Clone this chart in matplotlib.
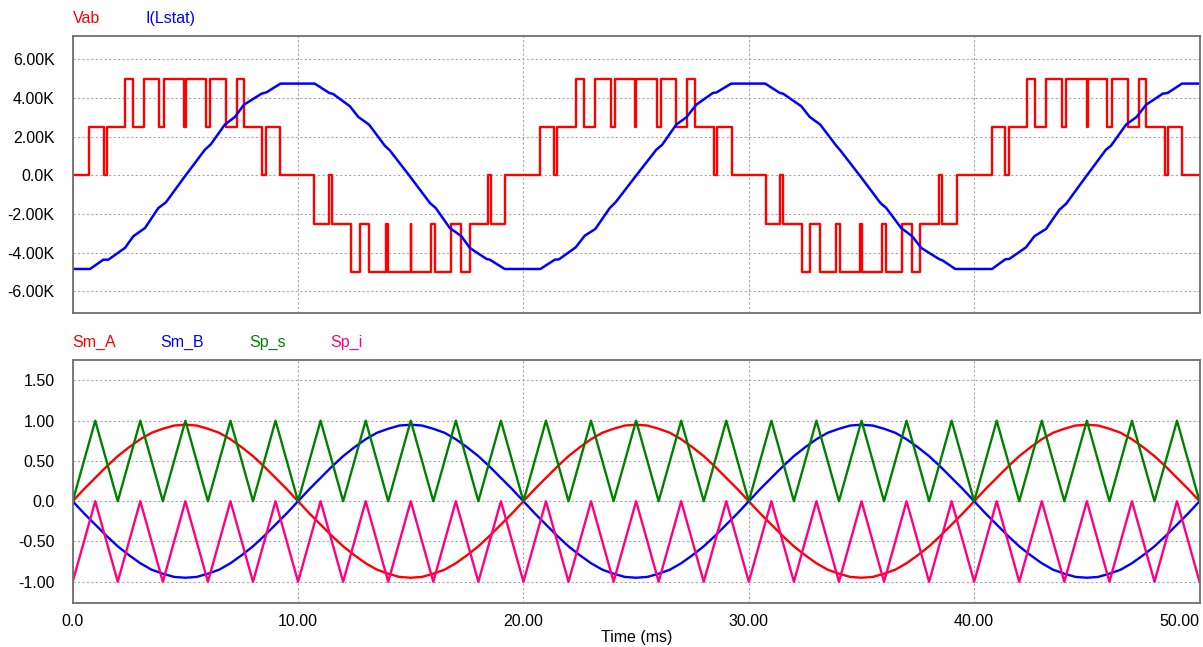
import numpy as np
import matplotlib
matplotlib.use("Agg")
import matplotlib.pyplot as plt

plt.rcParams['font.family'] = ['Liberation Sans', 'DejaVu Sans']

# Vab: switching instants (ms) and the level (kV) after each instant
vab_t = [0, 0.74, 1.37, 1.52, 2.33, 2.66, 3.16, 3.84, 4.06, 4.94, 5.02, 5.90, 6.09, 6.78, 7.27, 7.61, 8.42, 8.57, 9.19,
         10.72, 11.37, 11.51, 12.33, 12.74, 13.15, 13.88, 14.01, 14.99, 15.03, 15.89, 16.08, 16.78, 17.24, 17.64, 18.41, 18.54, 19.18,
         20.75, 21.36, 21.51, 22.35, 22.70, 23.19, 23.87, 24.06, 24.95, 25.01, 25.92, 26.11, 26.77, 27.27, 27.62, 28.44, 28.59, 29.24,
         30.78, 31.37, 31.53, 32.35, 32.71, 33.18, 33.88, 34.04, 34.95, 35.01, 35.90, 36.07, 36.79, 37.25, 37.60, 38.43, 38.58, 39.22,
         40.80, 41.38, 41.53, 42.33, 42.70, 43.19, 43.88, 44.09, 44.99, 45.05, 45.91, 46.12, 46.81, 47.30, 47.63, 48.47, 48.60, 49.22,
         50.0]
vab_k = [0, 2.5, 0, 2.5, 5, 2.5, 5, 2.5, 5, 2.5, 5, 2.5, 5, 2.5, 5, 2.5, 0, 2.5, 0,
         -2.5, 0, -2.5, -5, -2.5, -5, -2.5, -5, -2.5, -5, -2.5, -5, -2.5, -5, -2.5, 0, -2.5, 0,
         2.5, 0, 2.5, 5, 2.5, 5, 2.5, 5, 2.5, 5, 2.5, 5, 2.5, 5, 2.5, 0, 2.5, 0,
         -2.5, 0, -2.5, -5, -2.5, -5, -2.5, -5, -2.5, -5, -2.5, -5, -2.5, -5, -2.5, 0, -2.5, 0,
         2.5, 0, 2.5, 5, 2.5, 5, 2.5, 5, 2.5, 5, 2.5, 5, 2.5, 5, 2.5, 0, 2.5, 0,
         0]

# I(Lstat) (ms, "K" units)
il_t = [0, 0.77, 1.36, 1.58, 2.32, 2.69, 3.21, 3.80, 4.14, 4.98, 5.87, 6.12, 6.75, 7.20, 7.60, 8.38, 8.60, 9.22,
        10.74, 11.38, 11.56, 12.30, 12.67, 13.15, 13.85, 14.07, 14.96, 15.85, 16.11, 16.73, 17.25, 17.62, 18.36, 18.51, 19.17,
        20.75, 21.39, 21.58, 22.32, 22.72, 23.19, 23.83, 24.09, 25.01, 25.90, 26.15, 26.78, 27.23, 27.67, 28.41, 28.56, 29.22,
        30.73, 31.37, 31.52, 32.33, 32.70, 33.17, 33.88, 34.06, 34.95, 35.84, 36.10, 36.76, 37.25, 37.65, 38.43, 38.60, 39.16,
        40.79, 41.38, 41.56, 42.30, 42.67, 43.19, 43.78, 44.08, 44.97, 45.85, 46.07, 46.74, 47.21, 47.63, 48.37, 48.59, 49.22,
        50.0]
il_k = [-4.84, -4.84, -4.36, -4.36, -3.75, -3.15, -2.72, -1.69, -1.39, -0.05, 1.33, 1.59, 2.62, 3.02, 3.65, 4.22, 4.29, 4.74,
        4.74, 4.26, 4.20, 3.57, 3.02, 2.62, 1.53, 1.29, -0.05, -1.43, -1.69, -2.72, -3.15, -3.75, -4.32, -4.36, -4.84,
        -4.84, -4.36, -4.34, -3.72, -3.12, -2.77, -1.69, -1.39, 0.0, 1.33, 1.57, 2.62, 3.00, 3.65, 4.26, 4.28, 4.74,
        4.74, 4.26, 4.22, 3.57, 3.02, 2.62, 1.53, 1.29, -0.05, -1.43, -1.69, -2.72, -3.15, -3.75, -4.32, -4.40, -4.84,
        -4.84, -4.34, -4.32, -3.72, -3.15, -2.77, -1.78, -1.47, -0.05, 1.33, 1.53, 2.62, 3.02, 3.65, 4.22, 4.26, 4.74,
        4.74]

# modulating signals, read every 0.5 ms
sm_t = [i * 0.5 for i in range(101)]
sm_a = [0, 0.15, 0.29, 0.43, 0.56, 0.67, 0.77, 0.85, 0.90, 0.94, 0.95, 0.94, 0.90, 0.85, 0.77, 0.67, 0.56, 0.43, 0.29, 0.15,
        0, -0.15, -0.29, -0.43, -0.56, -0.67, -0.77, -0.85, -0.90, -0.94, -0.95, -0.94, -0.90, -0.85, -0.77, -0.67, -0.56, -0.43, -0.29, -0.15,
        0, 0.15, 0.29, 0.43, 0.56, 0.67, 0.77, 0.85, 0.90, 0.94, 0.95, 0.94, 0.90, 0.85, 0.77, 0.67, 0.56, 0.43, 0.29, 0.15,
        0, -0.15, -0.29, -0.43, -0.56, -0.67, -0.77, -0.85, -0.90, -0.94, -0.95, -0.94, -0.90, -0.85, -0.77, -0.67, -0.56, -0.43, -0.29, -0.15,
        0, 0.15, 0.29, 0.43, 0.56, 0.67, 0.77, 0.85, 0.90, 0.94, 0.95, 0.94, 0.90, 0.85, 0.77, 0.67, 0.56, 0.43, 0.29, 0.15, 0]
sm_b = [0, -0.15, -0.29, -0.43, -0.56, -0.67, -0.77, -0.85, -0.90, -0.94, -0.95, -0.94, -0.90, -0.85, -0.77, -0.67, -0.56, -0.43, -0.29, -0.15,
        0, 0.15, 0.29, 0.43, 0.56, 0.67, 0.77, 0.85, 0.90, 0.94, 0.95, 0.94, 0.90, 0.85, 0.77, 0.67, 0.56, 0.43, 0.29, 0.15,
        0, -0.15, -0.29, -0.43, -0.56, -0.67, -0.77, -0.85, -0.90, -0.94, -0.95, -0.94, -0.90, -0.85, -0.77, -0.67, -0.56, -0.43, -0.29, -0.15,
        0, 0.15, 0.29, 0.43, 0.56, 0.67, 0.77, 0.85, 0.90, 0.94, 0.95, 0.94, 0.90, 0.85, 0.77, 0.67, 0.56, 0.43, 0.29, 0.15,
        0, -0.15, -0.29, -0.43, -0.56, -0.67, -0.77, -0.85, -0.90, -0.94, -0.95, -0.94, -0.90, -0.85, -0.77, -0.67, -0.56, -0.43, -0.29, -0.15, 0]

# carriers: vertices every 1 ms
sp_t = list(range(51))
sp_s = [0, 1, 0, 1, 0, 1, 0, 1, 0, 1, 0, 1, 0, 1, 0, 1, 0, 1, 0, 1, 0, 1, 0, 1, 0, 1,
        0, 1, 0, 1, 0, 1, 0, 1, 0, 1, 0, 1, 0, 1, 0, 1, 0, 1, 0, 1, 0, 1, 0, 1, 0]
sp_i = [-1, 0, -1, 0, -1, 0, -1, 0, -1, 0, -1, 0, -1, 0, -1, 0, -1, 0, -1, 0, -1, 0, -1, 0, -1, 0,
        -1, 0, -1, 0, -1, 0, -1, 0, -1, 0, -1, 0, -1, 0, -1, 0, -1, 0, -1, 0, -1, 0, -1, 0, -1]

top_ticks = [-6, -4, -2, 0, 2, 4, 6]
top_labels = ['-6.00K', '-4.00K', '-2.00K', '0.0K', '2.00K', '4.00K', '6.00K']
bot_ticks = [-1, -0.5, 0, 0.5, 1, 1.5]
bot_labels = ['-1.00', '-0.50', '0.0', '0.50', '1.00', '1.50']
x_ticks = [0, 10, 20, 30, 40, 50]
x_labels = ['0.0', '10.00', '20.00', '30.00', '40.00', '50.00']

W, H = 1203, 647
fig = plt.figure(figsize=(W / 100, H / 100), dpi=100)

def px_axes(x0, y0, x1, y1):
    return fig.add_axes([x0 / W, 1 - y1 / H, (x1 - x0) / W, (y1 - y0) / H])

def style(ax):
    ax.grid(True, color='#a8a8a8', linestyle=(0, (2, 2)), linewidth=0.8)
    ax.set_axisbelow(True)
    for s in ax.spines.values():
        s.set_color('#6e6e6e')
        s.set_linewidth(1.3)
    ax.tick_params(length=0, labelsize=11.5, colors='black')
    ax.tick_params(axis='y', pad=13)
    ax.tick_params(axis='x', pad=8)
    ax.set_xlim(0, 50.02)
    ax.set_xticks(x_ticks)

ax1 = px_axes(72.7, 36, 1200, 313.3)
ax1.plot(vab_t, vab_k, drawstyle='steps-post', color='#ff0000', lw=1.7)
ax1.plot(il_t, il_k, color='#0000ff', lw=1.8)
style(ax1)
ax1.set_ylim(-7.13, 7.2)
ax1.set_yticks(top_ticks)
ax1.set_yticklabels(top_labels)
ax1.set_xticklabels([])

ax2 = px_axes(72.7, 359.5, 1200, 602.7)
ax2.plot(sm_t, sm_a, color='#ff0000', lw=1.7)
ax2.plot(sm_t, sm_b, color='#0000ff', lw=1.7)
ax2.plot(sp_t, sp_s, color='#008000', lw=1.7)
ax2.plot(sp_t, sp_i, color='#ff0080', lw=1.7)
style(ax2)
ax2.set_ylim(-1.26, 1.76)
ax2.set_yticks(bot_ticks)
ax2.set_yticklabels(bot_labels)
ax2.set_xticklabels(x_labels)
ax2.get_xticklabels()[-1].set_horizontalalignment('right')
ax2.set_xlabel('Time (ms)', fontsize=11.5, labelpad=1)

# coloured trace names above each panel
for name, col, x, y in [('Vab', '#ff0000', 72.7, 18.5), ('I(Lstat)', '#0000ff', 145.7, 18.5),
                        ('Sm_A', '#ff0000', 72.7, 342), ('Sm_B', '#0000ff', 160.5, 342),
                        ('Sp_s', '#008000', 249, 342), ('Sp_i', '#ff0080', 330, 342)]:
    fig.text(x / W, 1 - y / H, name, color=col, fontsize=11.5, va='center', ha='left')

fig.savefig('out.png', dpi=100)
